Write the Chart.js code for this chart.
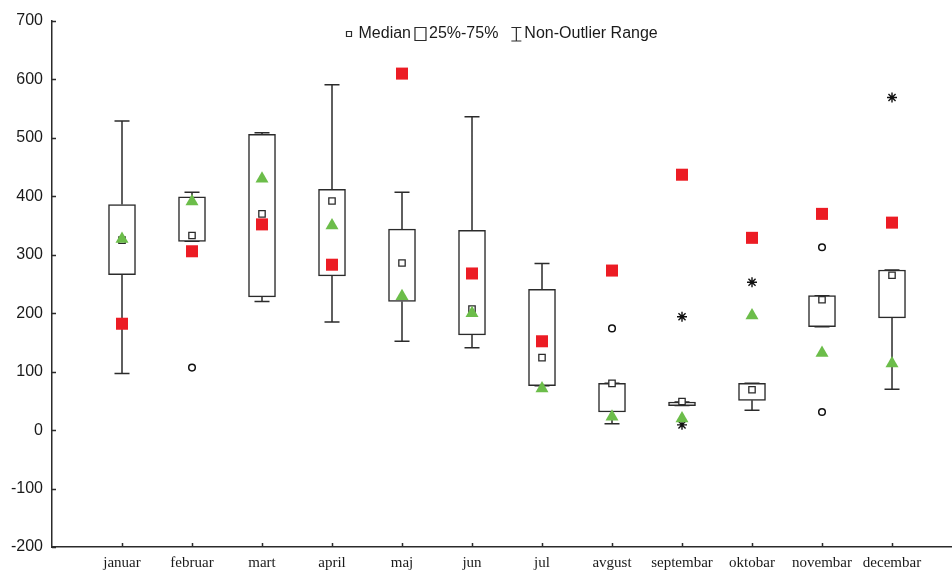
<!DOCTYPE html>
<html>
<head>
<meta charset="utf-8">
<script src="https://cdn.jsdelivr.net/npm/chart.js@4"></script>
<style>
  html, body { margin: 0; padding: 0; background: #fff; }
  #wrap { width: 952px; height: 573px; }
</style>
</head>
<body>
<div id="wrap"><canvas id="meuGrafico"></canvas></div>
<script>
const months = ["januar", "februar", "mart", "april", "maj", "jun", "jul", "avgust", "septembar", "oktobar", "novembar", "decembar"];
const xPos = [1, 2, 3, 4, 5, 6, 7, 8, 9, 10, 11, 12];

const boxLow = [266, 323, 228, 264, 220, 163, 76, 31, 42, 51, 177, 192];
const boxHigh = [386, 399, 506, 412, 344, 342, 241, 80, 48, 80, 230, 274];
const whiskerLow = [97, 323, 220, 185, 152, 141, 76, 11, 42, 34, 177, 70];
const whiskerHigh = [529, 407, 509, 591, 407, 536, 285, 80, 48, 80, 230, 274];
const medians = [325, 333, 370, 392, 286, 207, 124, 80, 49, 69, 223, 265];

const redValues = [182, 306, 352, 283, 610, 268, 152, 273, 437, 329, 370, 355];
const greenValues = [327, 391, 430, 350, 229, 200, 71, 23, 20, 196, 132, 114];

// outliers (circles) and extremes (asterisks)
const outlierMonths = [2, 8, 11, 11];
const outlierValues = [107, 174, 313, 31];
const extremeMonths = [9, 9, 10, 12];
const extremeValues = [194, 9, 253, 569];

const yTicks = [-200, -100, 0, 100, 200, 300, 400, 500, 600, 700];
const legendLabels = ["Median", "25%-75%", "Non-Outlier Range"];

const lineCol = "#2b2b2b";
const textCol = "#1a1a1a";
const sansFont = "'Liberation Sans', Arial, sans-serif";

function pts(xs, ys) {
  return xs.map((x, i) => ({ x: x, y: ys[i] }));
}

/* whiskers + ticks pointing inside */
const whiskerPlugin = {
  id: "whiskers",
  beforeDatasetsDraw(chart) {
    const { ctx, scales: { x, y } } = chart;
    ctx.save();
    ctx.strokeStyle = lineCol;
    ctx.lineWidth = 1.5;
    ctx.beginPath();
    xPos.forEach((v, i) => {
      const px = x.getPixelForValue(v);
      const yLo = y.getPixelForValue(whiskerLow[i]);
      const yHi = y.getPixelForValue(whiskerHigh[i]);
      ctx.moveTo(px, yLo); ctx.lineTo(px, y.getPixelForValue(boxLow[i]));
      ctx.moveTo(px, y.getPixelForValue(boxHigh[i])); ctx.lineTo(px, yHi);
      ctx.moveTo(px - 7.5, yLo); ctx.lineTo(px + 7.5, yLo);
      ctx.moveTo(px - 7.5, yHi); ctx.lineTo(px + 7.5, yHi);
    });
    y.ticks.forEach(t => {
      const py = Math.round(y.getPixelForValue(t.value)) + 0.5;
      ctx.moveTo(x.left, py); ctx.lineTo(x.left + 4, py);
    });
    x.ticks.forEach(t => {
      const px = Math.round(x.getPixelForValue(t.value)) + 0.5;
      ctx.moveTo(px, y.bottom); ctx.lineTo(px, y.bottom - 4);
    });
    ctx.stroke();
    ctx.restore();
  }
};

/* legend drawn inside the plot, on top */
const legendPlugin = {
  id: "boxLegend",
  afterDraw(chart) {
    const { ctx, chartArea } = chart;
    ctx.save();
    ctx.font = "16px " + sansFont;
    ctx.fillStyle = textCol;
    ctx.strokeStyle = lineCol;
    ctx.lineWidth = 1.2;
    ctx.textBaseline = "middle";
    const icons = [
      { w: 5, gap: 7, after: 4 },
      { w: 11, gap: 3, after: 13 },
      { w: 10, gap: 3, after: 0 },
    ];
    let total = 0;
    legendLabels.forEach((t, i) => {
      total += icons[i].w + icons[i].gap + ctx.measureText(t).width + icons[i].after;
    });
    const cy = chartArea.top + 13;
    let xx = Math.round((chartArea.left + chartArea.right) / 2 - total / 2) + 0.5;
    legendLabels.forEach((t, i) => {
      const ic = icons[i];
      ctx.beginPath();
      if (i === 0) {
        ctx.rect(xx, cy - 2.5, 5, 5);
      } else if (i === 1) {
        ctx.rect(xx, cy - 6.5, 11, 13);
      } else {
        ctx.moveTo(xx, cy - 6.5); ctx.lineTo(xx + 10, cy - 6.5);
        ctx.moveTo(xx + 5, cy - 6.5); ctx.lineTo(xx + 5, cy + 7);
        ctx.moveTo(xx, cy + 7); ctx.lineTo(xx + 10, cy + 7);
      }
      ctx.stroke();
      xx += ic.w + ic.gap;
      ctx.fillText(t, xx, cy);
      xx += ctx.measureText(t).width + ic.after;
    });
    ctx.restore();
  }
};

const ctx = document.getElementById("meuGrafico");

new Chart(ctx, {
  type: "bar",
  data: {
    datasets: [
      {
        type: "scatter",
        label: "green",
        data: pts(xPos, greenValues),
        pointStyle: "triangle",
        radius: 7.5,
        backgroundColor: "#6cbd4a",
        borderColor: "#6cbd4a",
        borderWidth: 0,
        order: 0,
      },
      {
        type: "scatter",
        label: "red",
        data: pts(xPos, redValues),
        pointStyle: "rect",
        radius: 8.5,
        backgroundColor: "#ec1c24",
        borderColor: "#ec1c24",
        borderWidth: 0,
        order: 1,
      },
      {
        type: "scatter",
        label: "Median",
        data: pts(xPos, medians),
        pointStyle: "rect",
        radius: 4.5,
        backgroundColor: "#fff",
        borderColor: lineCol,
        borderWidth: 1.3,
        order: 2,
      },
      {
        type: "scatter",
        label: "Outliers",
        data: pts(outlierMonths, outlierValues),
        pointStyle: "circle",
        radius: 3.3,
        backgroundColor: "#fff",
        borderColor: "#111",
        borderWidth: 1.5,
        order: 3,
      },
      {
        type: "scatter",
        label: "Extremes",
        data: pts(extremeMonths, extremeValues),
        pointStyle: "star",
        radius: 5,
        borderColor: "#111",
        borderWidth: 1.4,
        order: 3,
      },
      {
        type: "bar",
        label: "25%-75%",
        data: xPos.map((x, i) => ({ x: x, y: [boxLow[i], boxHigh[i]] })),
        backgroundColor: "#fff",
        borderColor: lineCol,
        borderWidth: 1.5,
        borderSkipped: false,
        barThickness: 27,
        order: 5,
      },
    ],
  },
  options: {
    responsive: true,
    maintainAspectRatio: false,
    animation: false,
    layout: { autoPadding: false, padding: { top: 21, right: 0, bottom: 0, left: 0 } },
    plugins: {
      tooltip: { enabled: false },
      legend: { display: false },
    },
    scales: {
      x: {
        type: "linear",
        offset: false,
        min: 0,
        max: 12.857,
        grid: { display: false, drawTicks: false, offset: false },
        border: { color: lineCol, width: 1.5 },
        afterBuildTicks: s => { s.ticks = xPos.map(v => ({ value: v })); },
        afterFit: s => { s.height = 26; },
        ticks: {
          padding: 7,
          color: textCol,
          autoSkip: false,
          maxRotation: 0,
          font: { family: "'Liberation Serif', 'Times New Roman', serif", size: 15 },
          callback: v => months[v - 1],
        },
      },
      y: {
        min: -200,
        max: 700,
        grid: { display: false, drawTicks: false },
        border: { color: lineCol, width: 1.5 },
        afterBuildTicks: s => { s.ticks = yTicks.map(v => ({ value: v })); },
        afterFit: s => { s.width = 52; },
        ticks: {
          padding: 9,
          color: textCol,
          font: { family: sansFont, size: 16 },
        },
      },
    },
  },
  plugins: [whiskerPlugin, legendPlugin],
});
</script>
</body>
</html>
